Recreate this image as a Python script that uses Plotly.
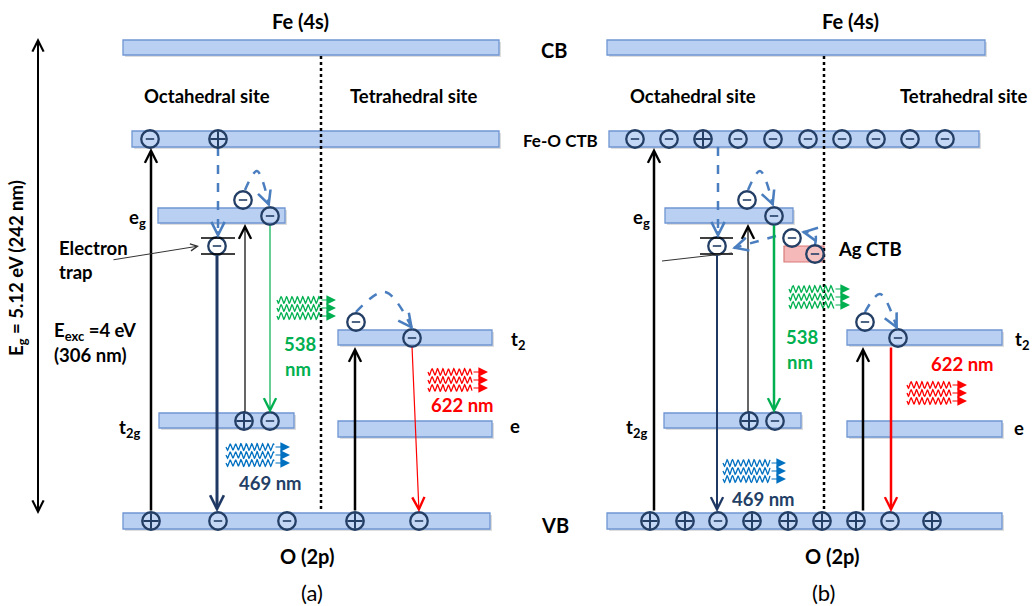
import numpy as np
import plotly.graph_objects as go

# ---------------- data (diagram coordinates, px-like units) ----------------
level_names = ["CB a", "CTB a", "eg a", "t2g a", "VB a", "t2 a", "e a",
               "CB b", "CTB b", "eg b", "t2g b", "VB b", "t2 b", "e b"]
level_x0 = [123, 132, 158, 159, 123, 338, 338, 607, 609, 665, 664, 607, 847, 847]
level_x1 = [499, 499, 285, 294, 490, 492, 492, 985, 979, 793, 801, 1002, 1002, 1002]
level_ytop = [40, 131, 208, 413, 513, 330, 421, 40, 131, 208, 413, 513, 330, 421]
level_ybot = [55, 147, 223, 428, 529, 345, 437, 55, 147, 223, 428, 529, 345, 437]

ag_box = [784, 824, 246, 262]  # x0, x1, ytop, ybot

trap_x0 = [201, 700]
trap_x1 = [235, 733]
trap_y = [[238, 254], [238, 254]]

charge_x = [150, 218, 243, 270, 217, 244, 270, 151, 218, 287, 355, 419, 356, 412,
            635, 669, 703, 738, 773, 808, 842, 876, 910, 945,
            747, 774, 717, 792, 815, 749, 775,
            650, 685, 718, 752, 788, 822, 856, 890, 932, 865, 898]
charge_y = [139, 139, 200, 216, 246, 421, 421, 521, 521, 521, 521, 521, 322, 338,
            139, 139, 139, 139, 139, 139, 139, 139, 139, 139,
            200, 216, 246, 238, 254, 421, 421,
            521, 521, 521, 521, 521, 521, 521, 521, 521, 322, 338]
charge_sign = ["-", "+", "-", "-", "-", "+", "-", "+", "-", "-", "+", "-", "-", "-",
               "-", "-", "+", "-", "-", "-", "-", "-", "-", "-",
               "-", "-", "-", "-", "-", "+", "-",
               "+", "+", "-", "+", "+", "+", "+", "-", "+", "-", "-"]

# solid transitions: tail -> head
arr_x0 = [151, 245, 355, 217, 270, 412, 654, 748, 863, 717, 774, 891]
arr_y0 = [512, 413, 512, 254, 224, 346, 512, 413, 512, 254, 224, 346]
arr_x1 = [151, 245, 355, 217, 270, 419, 654, 748, 863, 717, 774, 891]
arr_y1 = [148, 224, 347, 512, 413, 512, 148, 224, 347, 512, 413, 512]
arr_col = ["#000000", "#000000", "#000000", "#1f3864", "#00b050", "#ff0000",
           "#000000", "#000000", "#000000", "#1f3864", "#00b050", "#ff0000"]
arr_w = [2.5, 1.2, 2.5, 3.0, 1.2, 1.2, 2.5, 1.2, 2.5, 2.0, 2.5, 2.5]

# dashed (blue) electron paths
dash_paths_x = [[218, 218], [245, 257, 269], [356, 385, 412],
                [718, 718], [748, 760, 773], [865, 880, 897],
                [815, 815, 803], [776, 734]]
dash_paths_y = [[147, 236], [190, 171, 205], [312, 292, 328],
                [147, 236], [190, 171, 205], [312, 294, 328],
                [245, 234, 232], [236, 248]]

# emission glyphs (wavy photons): x start, x end of waves, first row y, colour
wave_x0 = [277, 428, 226, 789, 907, 723]
wave_x1 = [320, 472, 274, 834, 951, 770]
wave_y = [300, 372, 447, 289, 385, 463]
wave_col = ["#00b050", "#ff0000", "#0070c0", "#00b050", "#ff0000", "#0070c0"]

dotted_x = [321, 824]

# ---------------- figure ----------------
fig = go.Figure()
shapes = []
ann = []

BAR_FILL = "#bad0f3"
BAR_LINE = "#6f95d2"
NAVY = "#243f66"
DBLUE = "#4a7ebf"

for x0, x1, y0, y1 in zip(level_x0, level_x1, level_ytop, level_ybot):
    shapes.append(dict(type="rect", x0=x0 + 2, x1=x1 + 2, y0=y0 + 2, y1=y1 + 2,
                       fillcolor="rgba(120,120,120,0.25)", line=dict(width=0), layer="below"))
    shapes.append(dict(type="rect", x0=x0, x1=x1, y0=y0, y1=y1,
                       fillcolor=BAR_FILL, line=dict(color=BAR_LINE, width=1.3), layer="below"))

shapes.append(dict(type="rect", x0=ag_box[0], x1=ag_box[1], y0=ag_box[2], y1=ag_box[3],
                   fillcolor="#f5b9b9", line=dict(color="#d97b7b", width=1.2), layer="below"))

for xd in dotted_x:
    shapes.append(dict(type="line", x0=xd, x1=xd, y0=56, y1=510,
                       line=dict(color="black", width=2.5, dash="dot"), layer="below"))

for x0, x1, ys in zip(trap_x0, trap_x1, trap_y):
    for yy in ys:
        shapes.append(dict(type="line", x0=x0, x1=x1, y0=yy, y1=yy,
                           line=dict(color="black", width=1.5)))

# solid arrows
for x0, y0, x1, y1, c, w in zip(arr_x0, arr_y0, arr_x1, arr_y1, arr_col, arr_w):
    ann.append(dict(x=x1, y=y1, ax=x0, ay=y0, xref="x", yref="y", axref="x", ayref="y",
                    showarrow=True, arrowhead=5, arrowsize=max(0.9, 2.4 / w), arrowwidth=w,
                    arrowcolor=c, text="", standoff=0, startstandoff=0))

# Eg double arrow
for yh, yt in [(38, 300), (514, 250)]:
    ann.append(dict(x=38, y=yh, ax=38, ay=yt, xref="x", yref="y", axref="x", ayref="y",
                    showarrow=True, arrowhead=5, arrowsize=1.1, arrowwidth=2,
                    arrowcolor="black", text=""))

# electron trap pointers
ann.append(dict(x=199, y=246, ax=112, ay=260, xref="x", yref="y", axref="x", ayref="y",
                showarrow=True, arrowhead=5, arrowsize=1.4, arrowwidth=1,
                arrowcolor="#333333", text=""))
shapes.append(dict(type="line", x0=662, y0=261, x1=732, y1=253,
                   line=dict(color="#333333", width=1)))

# dashed electron paths
for px, py in zip(dash_paths_x, dash_paths_y):
    fig.add_trace(go.Scatter(x=px, y=py, mode="lines",
                             line=dict(color=DBLUE, width=2.5, dash="dash",
                                       shape="spline" if len(px) > 2 else "linear"),
                             hoverinfo="skip", showlegend=False))
    dx, dy = px[-1] - px[-2], py[-1] - py[-2]
    n = np.hypot(dx, dy)
    ann.append(dict(x=px[-1] + dx / n * 2, y=py[-1] + dy / n * 2,
                    ax=px[-1] - dx / n * 6, ay=py[-1] - dy / n * 6,
                    xref="x", yref="y", axref="x", ayref="y", showarrow=True,
                    arrowhead=5, arrowsize=1.3, arrowwidth=2, arrowcolor=DBLUE, text=""))

# wavy emission glyphs
for x0, x1, y0, c in zip(wave_x0, wave_x1, wave_y, wave_col):
    for k in range(3):
        yy = y0 + 8 * k
        xs = np.linspace(x0, x1, 160)
        ys = yy + 3.3 * np.sin((xs - x0) / 5.4 * 2 * np.pi)
        fig.add_trace(go.Scatter(x=xs, y=ys, mode="lines", line=dict(color=c, width=1.3),
                                 hoverinfo="skip", showlegend=False))
        ann.append(dict(x=x1 + 16, y=yy, ax=x1, ay=yy, xref="x", yref="y",
                        axref="x", ayref="y", showarrow=True, arrowhead=2,
                        arrowsize=1.6, arrowwidth=1.2, arrowcolor=c, text=""))

# charges
cx = np.array(charge_x)
cy = np.array(charge_y)
fig.add_trace(go.Scatter(x=cx, y=cy, mode="markers",
                         marker=dict(size=17.5, color="rgba(255,255,255,0.15)",
                                     line=dict(color=NAVY, width=2.3)),
                         hoverinfo="skip", showlegend=False))
sg = np.array(charge_sign)
fig.add_trace(go.Scatter(x=cx[sg == "-"], y=cy[sg == "-"], mode="markers",
                         marker=dict(size=6, symbol="line-ew", line=dict(color=NAVY, width=1.6)),
                         hoverinfo="skip", showlegend=False))
fig.add_trace(go.Scatter(x=cx[sg == "+"], y=cy[sg == "+"], mode="markers",
                         marker=dict(size=11, symbol="cross-thin", line=dict(color=NAVY, width=2)),
                         hoverinfo="skip", showlegend=False))

# ---------------- text ----------------
FONT = "Lato"
S = 18.5


def txt(x, y, s, size=S, color="black", xanchor="center", angle=0):
    ann.append(dict(x=x, y=y, xref="x", yref="y", text=s, showarrow=False,
                    xanchor=xanchor, yanchor="middle", textangle=angle,
                    font=dict(family=FONT, size=size, color=color)))


for xc in [300, 850]:
    txt(xc, 21, "<b>Fe (4s)</b>", 20)
txt(554, 50, "<b>CB</b>", 20)
txt(560, 140, "<b>Fe-O CTB</b>", 17)
txt(555, 525, "<b>VB</b>", 20)
txt(207, 96, "<b>Octahedral site</b>")
txt(413, 96, "<b>Tetrahedral site</b>")
txt(693, 96, "<b>Octahedral site</b>")
txt(963, 96, "<b>Tetrahedral site</b>")
txt(137, 218, "<b>e<sub>g</sub></b>")
txt(129, 428, "<b>t<sub>2g</sub></b>")
txt(641, 218, "<b>e<sub>g</sub></b>")
txt(636, 428, "<b>t<sub>2g</sub></b>")
txt(509, 340, "<b>t<sub>2</sub></b>", xanchor="left")
txt(508, 426, "<b>e</b>", xanchor="left")
txt(1013, 340, "<b>t<sub>2</sub></b>", xanchor="left")
txt(1012, 428, "<b>e</b>", xanchor="left")
txt(57, 248, "<b>Electron</b>", xanchor="left")
txt(57, 272, "<b>trap</b>", xanchor="left")
txt(52, 331, "<b>E<sub>exc</sub> =4 eV</b>", xanchor="left")
txt(52, 355, "<b>(306 nm)</b>", xanchor="left")
txt(17, 268, "<b>E<sub>g</sub> = 5.12 eV (242 nm)</b>", angle=-90)
txt(300, 344, "<b>538</b>", S, "#00b050")
txt(298, 369, "<b>nm</b>", S, "#00b050")
txt(802, 337, "<b>538</b>", S, "#00b050")
txt(800, 362, "<b>nm</b>", S, "#00b050")
txt(462, 405, "<b>622 nm</b>", S, "#ff0000")
txt(962, 364, "<b>622 nm</b>", S, "#ff0000")
txt(270, 483, "<b>469 nm</b>", S, "#243f66")
txt(763, 499, "<b>469 nm</b>", S, "#243f66")
txt(870, 249, "<b>Ag CTB</b>")
txt(307, 556, "<b>O (2p)</b>", 20)
txt(832, 556, "<b>O (2p)</b>", 20)
txt(312, 592, "(a)", 22)
txt(823, 592, "(b)", 22)

fig.update_layout(
    width=1032, height=606, margin=dict(l=0, r=0, t=0, b=0),
    paper_bgcolor="white", plot_bgcolor="white",
    xaxis=dict(range=[0, 1032], visible=False, fixedrange=True),
    yaxis=dict(range=[606, 0], visible=False, fixedrange=True),
    shapes=shapes, annotations=ann, showlegend=False,
)
fig.write_html("out.html", config={"displayModeBar": False},
               post_script="document.body.style.margin='0';document.body.style.overflow='hidden';")
